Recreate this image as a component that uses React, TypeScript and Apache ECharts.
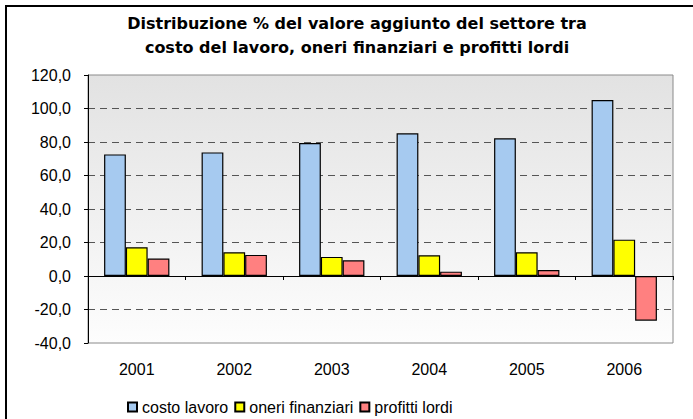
import React, { useEffect, useRef } from 'react';
import * as echarts from 'echarts';

const categories = ['2001', '2002', '2003', '2004', '2005', '2006'];
const costoLavoro = [72.6, 73.8, 79.4, 85.2, 82.2, 105.1];
const oneriFinanziari = [17.2, 14.2, 11.4, 12.4, 14.2, 21.7];
const profittiLordi = [10.4, 12.6, 9.4, 2.6, 3.6, -26.7];
const seriesNames = ['costo lavoro', 'oneri finanziari', 'profitti lordi'];
const yMin = -40;
const yMax = 120;
const yStep = 20;
const titleText =
  'Distribuzione % del valore aggiunto del settore tra\ncosto del lavoro, oneri finanziari e profitti lordi';

const FONT = '"Liberation Sans", Arial, sans-serif';

export default function App() {
  const ref = useRef<HTMLDivElement>(null);
  useEffect(() => {
    document.body.style.margin = '0';
    const chart = echarts.init(ref.current!, null, { renderer: 'svg' });
    const barBorder = { borderColor: '#000', borderWidth: 1.2 };
    chart.setOption({
      animation: false,
      backgroundColor: '#fff',
      graphic: [
        {
          type: 'rect',
          silent: true,
          z: -10,
          shape: { x: 6, y: 6, width: 760, height: 480 },
          style: { fill: 'none', stroke: '#000', lineWidth: 2 },
        },
        {
          type: 'text',
          x: 357,
          y: 11,
          style: {
            text: titleText,
            align: 'center',
            verticalAlign: 'top',
            font: 'bold 16px "DejaVu Sans", sans-serif',
            lineHeight: 24,
            fill: '#000',
          },
        },
      ],
      legend: {
        left: 122,
        top: 394,
        itemWidth: 9,
        itemHeight: 9,
        itemGap: 6,
        icon: 'rect',
        textStyle: { color: '#000', fontSize: 16, fontFamily: FONT },
        data: seriesNames,
      },
      grid: {
        left: 88,
        right: 20,
        top: 75,
        bottom: 76,
        outerBoundsMode: 'none',
        containLabel: false,
        show: true,
        borderColor: '#8a8a8a',
        borderWidth: 1,
        backgroundColor: {
          type: 'linear',
          x: 0,
          y: 0,
          x2: 0,
          y2: 1,
          colorStops: [
            { offset: 0, color: '#e2e2e2' },
            { offset: 1, color: '#fdfdfd' },
          ],
        },
      },
      xAxis: {
        type: 'category',
        data: categories,
        axisLine: { onZero: true, lineStyle: { color: '#000', width: 1 } },
        axisTick: { show: true, length: 4, lineStyle: { color: '#000' } },
        axisLabel: { margin: 18, color: '#000', fontSize: 16, fontFamily: FONT },
      },
      yAxis: {
        type: 'value',
        min: yMin,
        max: yMax,
        interval: yStep,
        axisLine: { show: true, lineStyle: { color: '#000', width: 1 } },
        axisTick: { show: true, length: 4, lineStyle: { color: '#000' } },
        axisLabel: {
          margin: 17,
          color: '#000',
          fontSize: 16,
          fontFamily: FONT,
          formatter: (v: number) => v.toFixed(1).replace('.', ','),
        },
        splitLine: {
          show: true,
          showMinLine: false,
          showMaxLine: false,
          lineStyle: { color: '#555', type: [7, 5], width: 1 },
        },
      },
      series: [
        {
          name: seriesNames[0],
          type: 'bar',
          data: costoLavoro,
          barGap: '0%',
          barCategoryGap: '33%',
          itemStyle: { color: '#a6caf0', ...barBorder },
        },
        {
          name: seriesNames[1],
          type: 'bar',
          data: oneriFinanziari,
          barGap: '0%',
          barCategoryGap: '33%',
          itemStyle: { color: '#ffff00', ...barBorder },
        },
        {
          name: seriesNames[2],
          type: 'bar',
          data: profittiLordi,
          barGap: '0%',
          barCategoryGap: '33%',
          itemStyle: { color: '#ff8080', ...barBorder },
        },
      ],
    });
    return () => chart.dispose();
  }, []);
  return <div ref={ref} style={{ width: 693, height: 419 }} />;
}
